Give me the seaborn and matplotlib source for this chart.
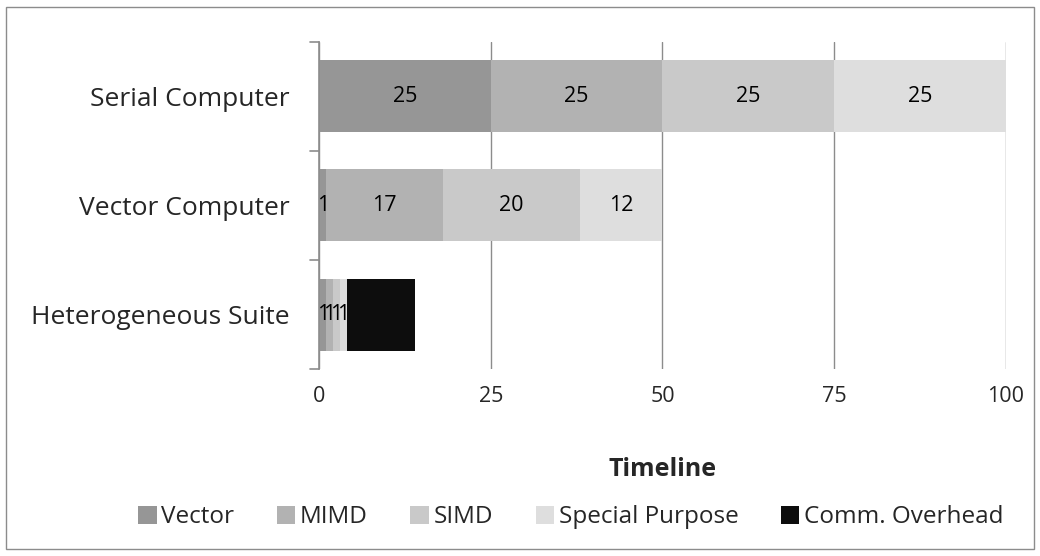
import matplotlib
matplotlib.use("Agg")
import matplotlib.pyplot as plt
from matplotlib.patches import Rectangle, Patch
import numpy as np
import pandas as pd
import seaborn as sns

systems = ["Serial Computer", "Vector Computer", "Heterogeneous Suite"]
segments = ["Vector", "MIMD", "SIMD", "Special Purpose", "Comm. Overhead"]
vector_vals = [25, 1, 1]
mimd_vals = [25, 17, 1]
simd_vals = [25, 20, 1]
special_vals = [25, 12, 1]
comm_vals = [0, 0, 10]
colors = ["#969696", "#b2b2b2", "#c9c9c9", "#dedede", "#0d0d0d"]
labelled = [True, True, True, True, False]
xticks = [0, 25, 50, 75, 100]

sns.set_theme(style="white")
plt.rcParams["font.family"] = ["Open Sans", "DejaVu Sans"]

values = np.array([vector_vals, mimd_vals, simd_vals, special_vals, comm_vals], dtype=float)
cum = np.cumsum(values, axis=0)

fig = plt.figure(figsize=(10.4, 5.56), dpi=100)
ax = fig.add_axes([0.307, 0.336, 0.66, 0.589])

# stacked bars: draw running totals from outermost to innermost so each segment shows
for i in range(len(segments) - 1, -1, -1):
    df = pd.DataFrame({"system": systems, "total": cum[i]})
    sns.barplot(data=df, y="system", x="total", orient="h", color=colors[i],
                saturation=1, width=0.66, ax=ax, zorder=3, linewidth=0)

# segment value labels
for i in range(len(segments)):
    if not labelled[i]:
        continue
    for j in range(len(systems)):
        v = values[i, j]
        if v <= 0:
            continue
        ax.text(cum[i, j] - v / 2, j, f"{v:g}", ha="center", va="center",
                fontsize=15.5, color="black", zorder=5)

ax.set_xlim(0, 100)
ax.set_ylim(2.5, -0.5)
ax.set_xticks(xticks)
ax.set_xticklabels([str(t) for t in xticks], fontsize=15.5)
ax.set_yticks([0, 1, 2])
ax.set_yticklabels(systems, fontsize=19)
ax.tick_params(axis="y", length=0, pad=21)
ax.tick_params(axis="x", length=0, pad=12)
ax.set_xlabel("Timeline", fontsize=18, fontweight="bold", labelpad=36)
ax.set_ylabel("")
ax.grid(axis="x", color="#8c8c8c", linewidth=1, zorder=0)
ax.set_axisbelow(True)
for s in ["top", "right", "bottom"]:
    ax.spines[s].set_visible(False)
ax.spines["left"].set_color("#8c8c8c")
ax.spines["left"].set_linewidth(1.2)
ax.spines["left"].set_zorder(6)

# category separators on the value axis
for yb in [-0.5, 0.5, 1.5, 2.5]:
    ax.plot([-1.3, 0], [yb, yb], color="#8c8c8c", linewidth=1.2, clip_on=False, zorder=6)

handles = [Patch(facecolor=c, edgecolor="none") for c in colors]
fig.legend(handles, segments, loc="center", bbox_to_anchor=(0.549, 0.07), ncol=5,
           frameon=False, fontsize=17.5, handlelength=0.75, handleheight=0.75,
           handletextpad=0.2, columnspacing=1.75)

fig.patches.append(Rectangle((0.006, 0.012), 0.988, 0.976, transform=fig.transFigure,
                             fill=False, edgecolor="#8c8c8c", linewidth=1))

fig.savefig("out.png", dpi=100)
